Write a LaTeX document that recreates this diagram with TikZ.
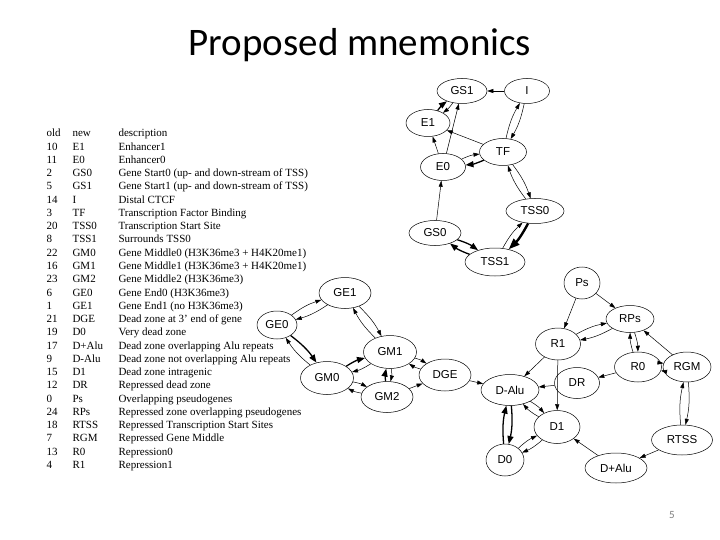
\documentclass[tikz,border=0pt]{standalone}
\usepackage{fontspec}
\usepackage{tikz}
\usetikzlibrary{arrows.meta,shapes.geometric}
\setmainfont{Liberation Serif}
\newfontfamily\titlefont{Carlito}
\newfontfamily\statefont{Liberation Sans}
\definecolor{PageGray}{HTML}{7F7F7F}

\begin{document}
\begin{tikzpicture}[x=1pt, y=-1pt,
  st/.style={ellipse, draw, line width=0.5pt, inner sep=0pt, font=\statefont\fontsize{11.5}{12}\selectfont},
  tr/.style={line width=0.5pt, -{Triangle[length=6pt,width=4pt]}},
  tk/.style={line width=1.3pt, -{Triangle[length=8pt,width=6pt]}},
  tx/.style={line width=2.4pt, -{Triangle[length=11pt,width=8pt]}},
  bl/.style={bend left=9},
  row/.style={anchor=base west, font=\fontsize{11}{12}\selectfont}]
  \useasboundingbox[fill=white] (0,0) rectangle (720,540);
  \node[font=\titlefont\fontsize{39}{44}\selectfont] (title) at (360,45) {Proposed mnemonics};
  \node[font=\titlefont\fontsize{11}{13}\selectfont, text=PageGray] (pnum) at (672,515) {5};
  \foreach \o/\n/\d [count=\i from 0] in {old/new/description, 10/E1/Enhancer1, 11/E0/Enhancer0,
      2/GS0/Gene Start0 (up- and down-stream of TSS), 5/GS1/Gene Start1 (up- and down-stream of TSS),
      14/I/Distal CTCF, 3/TF/Transcription Factor Binding, 20/TSS0/Transcription Start Site,
      8/TSS1/Surrounds TSS0, 22/GM0/Gene Middle0 (H3K36me3 + H4K20me1),
      16/GM1/Gene Middle1 (H3K36me3 + H4K20me1), 23/GM2/Gene Middle2 (H3K36me3),
      6/GE0/Gene End0 (H3K36me3), 1/GE1/Gene End1 (no H3K36me3), 21/DGE/Dead zone at 3' end of gene,
      19/D0/Very dead zone, 17/D+Alu/Dead zone overlapping Alu repeats,
      9/D-Alu/Dead zone not overlapping Alu repeats, 15/D1/Dead zone intragenic,
      12/DR/Repressed dead zone, 0/Ps/Overlapping pseudogenes,
      24/RPs/Repressed zone overlapping pseudogenes, 18/RTSS/Repressed Transcription Start Sites,
      7/RGM/Repressed Gene Middle, 13/R0/Repression0, 4/R1/Repression1}
  {
    \node[row] (old\i) at (43,{137+13.25*\i}) {\o};
    \node[row] (new\i) at (69,{137+13.25*\i}) {\n};
    \node[row] (desc\i) at (115,{137+13.25*\i}) {\d};
  }
  \foreach \nm/\x/\y/\w/\h/\txt in {GS1/462/91/50/25/GS1, I/527/91/45/25/I, E1/428/123/44/27/E1,
      TF/503/152/47/27/TF, E0/443/167/45/27/E0, TSS0/535/211/58/25/TSS0, GS0/435/233/52/25/GS0,
      TSS1/495/262/60/28/TSS1, GE1/345/293/52/31/GE1, GE0/277/325/40/28/GE0, GM1/390/352/53/33/GM1,
      GM0/327/378/53/33/GM0, GM2/387/397/52/31/GM2, DGE/445/375/52/32/DGE, Ps/582/283/36/32/Ps,
      RPs/630/319/48/27/RPs, R1/558/344/45/32/R1, R0/638/367/47/30/R0, RGM/687/367/48/30/RGM,
      DR/577/383/45/31/DR, DAlu/510/390/58/31/D-Alu, D1/557/427/46/33/D1, D0/505/460/38/32/D0,
      DpAlu/616/468/62/30/D+Alu, RTSS/682/440/61/30/RTSS}
    \node[st, minimum width=\w pt, minimum height=\h pt] (\nm) at (\x,\y) {\txt};
  \foreach \a/\b in {I/GS1, E0/GS1, TF/E1, E0/E1, GS0/E0, GM2/DGE, DGE/DAlu, Ps/R1, Ps/RPs,
      R1/DAlu, R1/D1, RGM/RPs, R0/DR, DR/DAlu, DpAlu/D1, RTSS/DpAlu}
    \draw[tr] (\a) -- (\b);
  \foreach \a/\b in {GS1/E1, E0/TF, TF/I, I/TF, TF/TSS0, TSS0/TF, TSS1/TSS0, GE0/GE1, GE1/GE0,
      GE1/GM1, GM1/GE1, GM0/GE0, GM1/GM0, GM0/GM2, GM2/GM0, GM1/GM2, GM1/DGE, DGE/GM1, R1/RPs,
      RPs/R1, RPs/R0, R0/RPs, R0/RGM, RGM/R0, DAlu/D1, D1/DAlu, D0/D1, D1/D0, RGM/RTSS, RTSS/RGM}
    \draw[tr] (\a) to[bl] (\b);
  \foreach \a/\b in {E1/GS1, TF/E0, GS0/TSS1, TSS1/GS0, GE0/GM0, GM0/GM1, GM2/GM1, DAlu/D0, D0/DAlu}
    \draw[tk] (\a) to[bl] (\b);
  \draw[tx] (TSS0) to[bl] (TSS1);
\end{tikzpicture}
\end{document}
